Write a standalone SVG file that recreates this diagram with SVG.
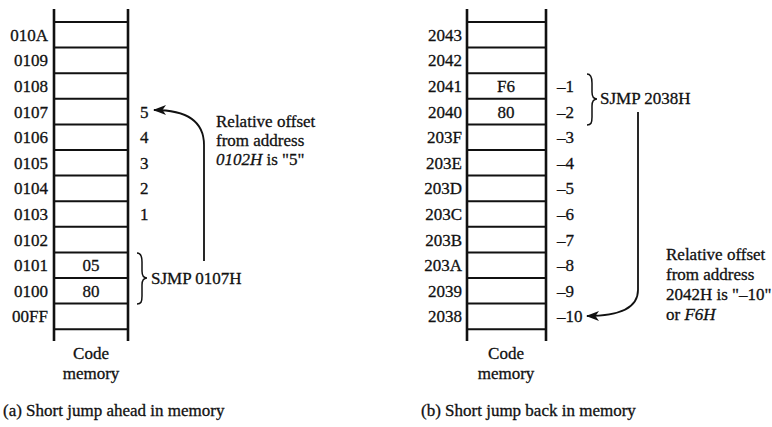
<svg xmlns="http://www.w3.org/2000/svg" width="772" height="427" viewBox="0 0 772 427">
<style>
text{font-family:"Liberation Serif","Times New Roman",serif;font-size:17px;fill:#111;stroke:#111;stroke-width:0.3}
.r{text-anchor:end}
.m{text-anchor:middle}
.col{stroke:#111;stroke-width:2.6;fill:none}
.row{stroke:#111;stroke-width:2;fill:none}
.conn{stroke:#111;stroke-width:1.8;fill:none}
.brace{stroke:#111;stroke-width:1.5;fill:none}
</style>
<defs>
<marker id="ah" viewBox="0 0 13 10" refX="12" refY="5" markerUnits="userSpaceOnUse" markerWidth="13" markerHeight="10" orient="auto">
<path d="M0,0 L13,5 L0,10 L3.5,5 Z" fill="#111"/>
</marker>
</defs>
<rect width="772" height="427" fill="#fff"/>

<g id="memory-a">
<line class="col" x1="54" y1="9" x2="54" y2="341"/>
<line class="col" x1="128" y1="9" x2="128" y2="341"/>
<path class="row" d="M54,22H128M54,47.6H128M54,73.2H128M54,98.8H128M54,124.4H128M54,150H128M54,175.6H128M54,201.2H128M54,226.8H128M54,252.4H128M54,278H128M54,303.6H128M54,329.2H128"/>
<text class="r" x="48" y="40.8">010A</text>
<text class="r" x="48" y="66.4">0109</text>
<text class="r" x="48" y="92">0108</text>
<text class="r" x="48" y="117.6">0107</text>
<text class="r" x="48" y="143.2">0106</text>
<text class="r" x="48" y="168.8">0105</text>
<text class="r" x="48" y="194.4">0104</text>
<text class="r" x="48" y="220">0103</text>
<text class="r" x="48" y="245.6">0102</text>
<text class="r" x="48" y="271.2">0101</text>
<text class="r" x="48" y="296.8">0100</text>
<text class="r" x="48" y="322.4">00FF</text>
<text class="m" x="91" y="271.2">05</text>
<text class="m" x="91" y="296.8">80</text>
<text x="140" y="117.6">5</text>
<text x="140" y="143.2">4</text>
<text x="140" y="168.8">3</text>
<text x="140" y="194.4">2</text>
<text x="140" y="220">1</text>
<text class="m" x="91" y="359">Code</text>
<text class="m" x="91" y="379">memory</text>
</g>

<g id="label-a">
<path class="brace" d="M137,253 C141,253 142,256 142,262 L142,271 C142,276 144,278 147,278 C144,278 142,280 142,285 L142,296 C142,302 141,304 137,304"/>
<text x="151" y="284">SJMP 0107H</text>
<text x="216" y="127">Relative offset</text>
<text x="216" y="146">from address</text>
<text x="216" y="165"><tspan font-style="italic">0102H</tspan> is "5"</text>
</g>

<g id="memory-b">
<line class="col" x1="467" y1="9" x2="467" y2="341"/>
<line class="col" x1="546" y1="9" x2="546" y2="341"/>
<path class="row" d="M467,22H546M467,47.6H546M467,73.2H546M467,98.8H546M467,124.4H546M467,150H546M467,175.6H546M467,201.2H546M467,226.8H546M467,252.4H546M467,278H546M467,303.6H546M467,329.2H546"/>
<text class="r" x="462" y="40.8">2043</text>
<text class="r" x="462" y="66.4">2042</text>
<text class="r" x="462" y="92">2041</text>
<text class="r" x="462" y="117.6">2040</text>
<text class="r" x="462" y="143.2">203F</text>
<text class="r" x="462" y="168.8">203E</text>
<text class="r" x="462" y="194.4">203D</text>
<text class="r" x="462" y="220">203C</text>
<text class="r" x="462" y="245.6">203B</text>
<text class="r" x="462" y="271.2">203A</text>
<text class="r" x="462" y="296.8">2039</text>
<text class="r" x="462" y="322.4">2038</text>
<text class="m" x="506" y="92">F6</text>
<text class="m" x="506" y="117.6">80</text>
<text x="557" y="92">–1</text>
<text x="557" y="117.6">–2</text>
<text x="557" y="143.2">–3</text>
<text x="557" y="168.8">–4</text>
<text x="557" y="194.4">–5</text>
<text x="557" y="220">–6</text>
<text x="557" y="245.6">–7</text>
<text x="557" y="271.2">–8</text>
<text x="557" y="296.8">–9</text>
<text x="557" y="322.4">–10</text>
<text class="m" x="506" y="359">Code</text>
<text class="m" x="506" y="379">memory</text>
</g>

<g id="label-b">
<path class="brace" d="M587,74 C591,74 592,77 592,83 L592,92 C592,97 594,99 597,99 C594,99 592,101 592,106 L592,117 C592,123 591,125 587,125"/>
<text x="600" y="104">SJMP 2038H</text>
<text x="666" y="260">Relative offset</text>
<text x="666" y="280">from address</text>
<text x="666" y="300">2042H is "–10"</text>
<text x="666" y="320">or <tspan font-style="italic">F6H</tspan></text>
</g>

<g id="connectors">
<path class="conn" marker-end="url(#ah)" d="M204,261 V145 C204,123 190,110 154,110"/>
<path class="conn" marker-end="url(#ah)" d="M638,112 V290 C638,306 624,316 587,316"/>
</g>

<g id="captions">
<text x="3" y="416">(a) Short jump ahead in memory</text>
<text x="421" y="416">(b) Short jump back in memory</text>
</g>
</svg>
